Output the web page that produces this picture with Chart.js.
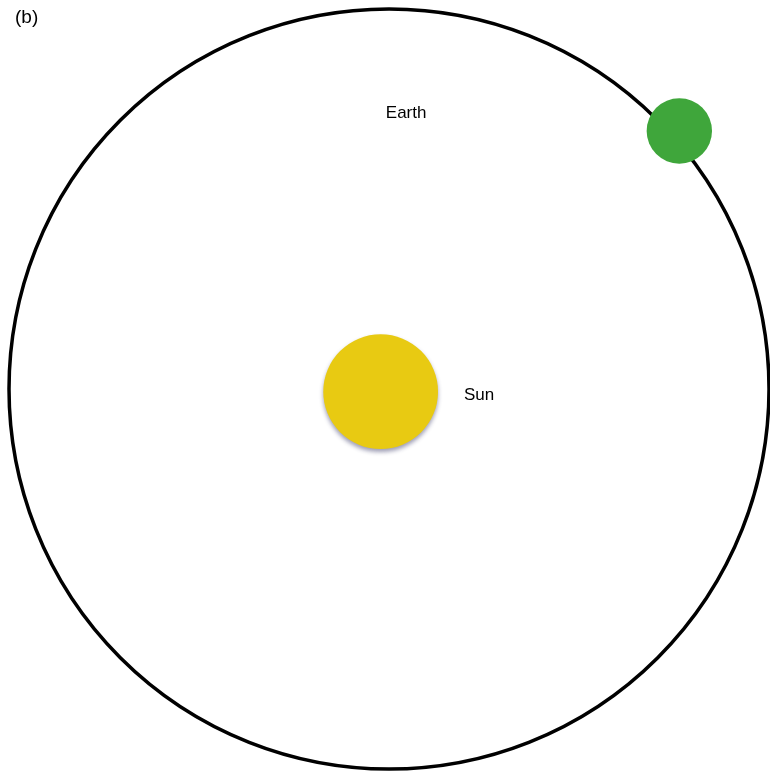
<!DOCTYPE html>
<html>
<head>
<meta charset="utf-8">
<script src="https://cdn.jsdelivr.net/npm/chart.js@4"></script>
<style>
  body { margin: 0; background: #fff; }
  #wrap { width: 770px; height: 777px; position: relative; }
</style>
</head>
<body>
<div id="wrap"><canvas id="orbitChart"></canvas></div>
<script>
// Bodies, positions in orbit-radius units (orbit centre at 0,0)
const bodies = ["Orbit", "Sun", "Earth"];
const bodyX = [0, -0.022, 0.764];
const bodyY = [0, -0.007, 0.679];
const bodyRadius = [1, 0.151, 0.086];

// Text labels, same units
const labelTexts = ["Earth", "Sun"];
const labelX = [0.045, 0.237];
const labelY = [0.726, -0.016];

const panelLabel = "(b)";

const ctx = document.getElementById("orbitChart").getContext("2d");

// radius in data units -> pixels via the x scale
const radiusPx = (chart, r) =>
  Math.abs(chart.scales.x.getPixelForValue(r) - chart.scales.x.getPixelForValue(0));

const labelPlugin = {
  id: "labels",
  beforeDatasetDraw(chart, args) {
    if (args.index === 1) {
      const c = chart.ctx;
      c.save();
      c.shadowColor = "rgba(40,40,90,0.45)";
      c.shadowBlur = 4;
      c.shadowOffsetY = 3;
    }
  },
  afterDatasetDraw(chart, args) {
    if (args.index === 1) chart.ctx.restore();
  },
  afterDatasetsDraw(chart) {
    const c = chart.ctx;
    const { x, y } = chart.scales;
    c.save();
    c.fillStyle = "#000";
    c.textAlign = "center";
    c.textBaseline = "middle";
    c.font = "17px 'Liberation Sans', Arial, sans-serif";
    labelTexts.forEach((t, i) => {
      c.fillText(t, x.getPixelForValue(labelX[i]), y.getPixelForValue(labelY[i]));
    });
    c.textAlign = "left";
    c.font = "19px 'Liberation Sans', Arial, sans-serif";
    c.fillText(panelLabel, 15, 18);
    c.restore();
  },
};

const fills = ["rgba(0,0,0,0)", "#e8ca12", "#3fa63b"];
const borders = ["#000", "rgba(0,0,0,0)", "rgba(0,0,0,0)"];
const borderWidths = [3.5, 0, 0];
const drawOrder = [3, 2, 1]; // orbit behind, earth on top

new Chart(ctx, {
  type: "scatter",
  data: {
    datasets: bodies.map((name, i) => ({
      label: name,
      data: [{ x: bodyX[i], y: bodyY[i] }],
      order: drawOrder[i],
      pointStyle: "circle",
      pointRadius: (c) => radiusPx(c.chart, bodyRadius[i]),
      backgroundColor: fills[i],
      borderColor: borders[i],
      borderWidth: borderWidths[i],
      clip: false,
    })),
  },
  options: {
    responsive: true,
    maintainAspectRatio: false,
    animation: false,
    events: [],
    devicePixelRatio: 1,
    layout: { padding: 0 },
    scales: {
      x: { type: "linear", min: -1.0237, max: 1.0026, display: false },
      y: { type: "linear", min: -1.0211, max: 1.0237, display: false },
    },
    plugins: {
      legend: { display: false },
      tooltip: { enabled: false },
    },
  },
  plugins: [labelPlugin],
});
</script>
</body>
</html>
